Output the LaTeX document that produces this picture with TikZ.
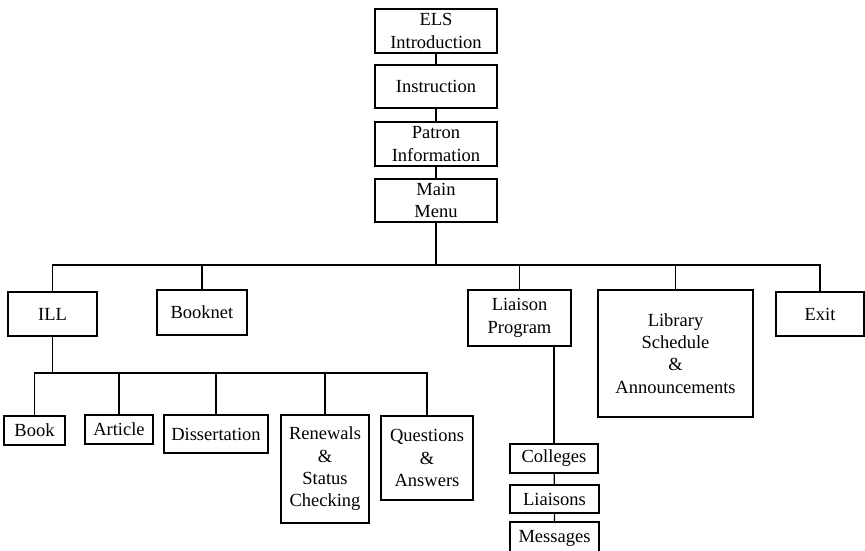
\documentclass[tikz,border=0pt]{standalone}
\usepackage{fontspec}
\setmainfont{Liberation Serif}
\tikzset{
  menubox/.style={draw, line width=1.2pt, rectangle, align=center, inner sep=1pt,
    font=\fontsize{18.5}{22.3}\selectfont},
}
\begin{document}
\begin{tikzpicture}[x=1pt, y=-1pt, line width=1.2pt]
    \useasboundingbox (0,0) rectangle (865,551);
    \clip (0,0) rectangle (865,551);
    \def\busy{265}
    \def\subbusy{373}

    % top column
    \node[menubox, minimum width=122, minimum height=44] (els) at (436,31) {ELS\\Introduction};
    \node[menubox, minimum width=122, minimum height=43] (instr) at (436,86.5) {Instruction};
    \node[menubox, minimum width=122, minimum height=44] (patron) at (436,144) {Patron\\Information};
    \node[menubox, minimum width=122, minimum height=43] (menu) at (436,200.5) {Main\\Menu};

    % main menu choices
    \node[menubox, minimum width=89, minimum height=44] (ill) at (52.5,314) {ILL};
    \node[menubox, minimum width=90, minimum height=45] (booknet) at (202,312.5) {Booknet};
    \node[menubox, minimum width=103, minimum height=56] (liaison) at (519.5,318) {Liaison\\Program};
    \node[menubox, minimum width=155, minimum height=127] (library) at (675.5,353.5) {Library\\Schedule\\\&\\Announcements};
    \node[menubox, minimum width=88, minimum height=44] (exit) at (820,314) {Exit};

    % ILL choices
    \node[menubox, minimum width=61, minimum height=29] (book) at (34.5,430.5) {Book};
    \node[menubox, minimum width=68, minimum height=29] (article) at (119,429.5) {Article};
    \node[menubox, minimum width=104, minimum height=38] (diss) at (216,434) {Dissertation};
    \node[menubox, minimum width=88, minimum height=108] (renew) at (325,469) {Renewals\\\&\\Status\\Checking};
    \node[menubox, minimum width=92, minimum height=84] (qa) at (427,458) {Questions\\\&\\Answers};

    % liaison choices
    \node[menubox, minimum width=88, minimum height=29] (colleges) at (554,458.5) {Colleges};
    \node[menubox, minimum width=89, minimum height=28] (liaisons) at (554.5,499) {Liaisons};
    \node[menubox, minimum width=89, minimum height=32] (messages) at (554.5,538) {Messages};

    \coordinate (bus) at (0,\busy);
    \coordinate (subbus) at (0,\subbusy);

    % lines
    \draw (els) -- (instr) -- (patron) -- (menu);
    \draw (menu.south) -- (menu.south |- bus);
    \draw (ill.north) -- (ill.north |- bus) -- (exit.north |- bus) -- (exit.north);
    \foreach \n in {booknet, liaison, library}
        \draw (\n.north) -- (\n.north |- bus);
    \draw (ill.south) -- (ill.south |- subbus);
    \draw (book.north) -- (book.north |- subbus) -- (qa.north |- subbus) -- (qa.north);
    \foreach \n in {article, diss, renew}
        \draw (\n.north) -- (\n.north |- subbus);
    \draw (colleges.north) -- (colleges.north |- liaison.south);
    \draw (colleges) -- (liaisons) -- (messages);
\end{tikzpicture}
\end{document}
